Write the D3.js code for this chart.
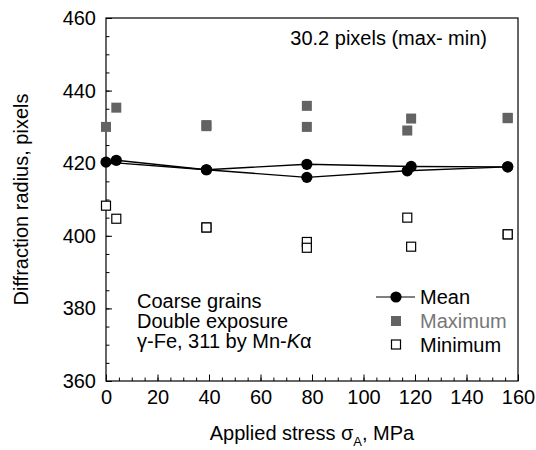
<html lang="en">
<head>
  <meta charset="UTF-8"/>
  <script src="https://d3js.org/d3.v7.min.js"></script>
  <style>
body {
  margin: 0;
  background: white;
  font-family: 'Liberation Sans', Arial, sans-serif;
}

svg {
  display: block;
}

text {
  font-size: 20px;
  fill: black;
}

.axis path {
  display: none;
}

.axis .tick line {
  stroke: black;
  stroke-width: 1;
}

.axis text {
  font-family: 'Liberation Sans', Arial, sans-serif;
  font-size: 20px;
}

.frame {
  fill: none;
  stroke: black;
  stroke-width: 1.2;
}

.line {
  fill: none;
  stroke: black;
  stroke-width: 1.4;
}

.mean {
  fill: black;
}

.max {
  fill: #636363;
}

.min {
  fill: white;
  stroke: black;
  stroke-width: 1.2;
}
</style>
</head>
<body>
  <svg width="536" height="450"></svg>

<script>

  // two exposures per stress level
  const stressA = [0, 39, 78, 118.5, 156];
  const stressB = [4, 39, 78, 117, 156];

  const meanA = [420.3, 418.2, 419.7, 419.1, 419.0];
  const meanB = [420.8, 418.2, 416.1, 417.9, 419.0];

  const maxA = [430.0, 430.5, 435.8, 432.3, 432.5];
  const maxB = [435.3, 430.2, 430.0, 429.0, 432.4];

  const minA = [408.3, 402.3, 398.3, 397.0, 400.4];
  const minB = [404.7, 402.3, 396.7, 405.0, 400.4];

  const xTicks = [0, 20, 40, 60, 80, 100, 120, 140, 160];
  const yTicks = [360, 380, 400, 420, 440, 460];

  const noteLines = ['Coarse grains', 'Double exposure'];

  const svg = d3.select('svg');

  var margin = {
    "left": 106,
    "right": 18,
    "top": 18,
    "bottom": 69
  };

  const width = 536 - margin.left - margin.right;
  const height = 450 - margin.top - margin.bottom;

  const chart = svg.append('g')
    .attr('transform', `translate(${margin.left},${margin.top})`);

  const x = d3.scaleLinear()
    .domain([0, 160])
    .range([0, width]);

  const y = d3.scaleLinear()
    .domain([360, 460])
    .range([height, 0]);

  // minor ticks first
  chart.append('g')
    .attr('class', 'axis')
    .attr('transform', `translate(0,${height})`)
    .call(d3.axisBottom(x).tickValues(d3.range(0, 161, 5)).tickSize(-3.5).tickFormat(''));

  chart.append('g')
    .attr('class', 'axis')
    .call(d3.axisLeft(y).tickValues(d3.range(360, 461, 5)).tickSize(-3.5).tickFormat(''));

  // major ticks with labels
  chart.append('g')
    .attr('class', 'axis')
    .attr('transform', `translate(0,${height})`)
    .call(d3.axisBottom(x).tickValues(xTicks).tickSize(-6.5).tickPadding(9));

  chart.append('g')
    .attr('class', 'axis')
    .call(d3.axisLeft(y).tickValues(yTicks).tickSize(-6).tickPadding(10));

  chart.append('rect')
    .attr('class', 'frame')
    .attr('width', width)
    .attr('height', height);

  const line = d3.line()
    .x(d => x(d[0]))
    .y(d => y(d[1]));

  const series = [
    {s: stressA, mean: meanA, max: maxA, min: minA},
    {s: stressB, mean: meanB, max: maxB, min: minB}
  ];

  series.forEach(function(ser) {
    chart.append('path')
      .datum(ser.s.map((v, i) => [v, ser.mean[i]]))
      .attr('class', 'line')
      .attr('d', line);
  });

  series.forEach(function(ser) {
    chart.selectAll(null)
      .data(ser.s.map((v, i) => [v, ser.max[i]]))
      .join('rect')
      .attr('class', 'max')
      .attr('x', d => x(d[0]) - 5)
      .attr('y', d => y(d[1]) - 5)
      .attr('width', 10)
      .attr('height', 10);

    chart.selectAll(null)
      .data(ser.s.map((v, i) => [v, ser.min[i]]))
      .join('rect')
      .attr('class', 'min')
      .attr('x', d => x(d[0]) - 4.5)
      .attr('y', d => y(d[1]) - 4.5)
      .attr('width', 9)
      .attr('height', 9);
  });

  series.forEach(function(ser) {
    chart.selectAll(null)
      .data(ser.s.map((v, i) => [v, ser.mean[i]]))
      .join('circle')
      .attr('class', 'mean')
      .attr('cx', d => x(d[0]))
      .attr('cy', d => y(d[1]))
      .attr('r', 5.6);
  });

  // annotation
  chart.append('text')
    .attr('x', 487 - margin.left)
    .attr('y', 45 - margin.top)
    .attr('text-anchor', 'end')
    .text('30.2 pixels (max- min)');

  const noteX = 137 - margin.left;
  const noteY = 308 - margin.top;
  const noteStep = 20;

  noteLines.forEach(function(t, i) {
    chart.append('text')
      .attr('x', noteX)
      .attr('y', noteY + i * noteStep)
      .text(t);
  });

  const l3 = chart.append('text')
    .attr('x', noteX)
    .attr('y', noteY + 2 * noteStep);
  l3.append('tspan').text('\u03b3-Fe, 311 by Mn-');
  l3.append('tspan').style('font-style', 'italic').text('K');
  l3.append('tspan').text('\u03b1');

  // legend
  const lg = chart.append('g')
    .attr('transform', `translate(${396 - margin.left},${297 - margin.top})`);

  lg.append('line')
    .attr('x1', -20).attr('x2', 19)
    .attr('stroke', '#555').attr('stroke-width', 1.4);
  lg.append('circle').attr('class', 'mean').attr('r', 5.6);
  lg.append('rect').attr('class', 'max')
    .attr('x', -5).attr('y', 24 - 5).attr('width', 10).attr('height', 10);
  lg.append('rect').attr('class', 'min')
    .attr('x', -4.5).attr('y', 47.5 - 4.5).attr('width', 9).attr('height', 9);

  lg.append('text').attr('x', 24).attr('y', 6.5).text('Mean');
  lg.append('text').attr('x', 24).attr('y', 31).style('fill', '#777').text('Maximum');
  lg.append('text').attr('x', 24).attr('y', 55).text('Minimum');

  // axis titles
  const xt = chart.append('text')
    .attr('x', width / 2)
    .attr('y', 440 - margin.top)
    .attr('text-anchor', 'middle');
  xt.append('tspan').text('Applied stress \u03c3');
  xt.append('tspan').attr('dy', 6).style('font-size', '13px').text('A');
  xt.append('tspan').attr('dy', -6).text(', MPa');

  chart.append('text')
    .attr('transform', 'rotate(-90)')
    .attr('x', -height / 2)
    .attr('y', 28 - margin.left)
    .attr('text-anchor', 'middle')
    .text('Diffraction radius, pixels');

</script>
</body>
</html>
